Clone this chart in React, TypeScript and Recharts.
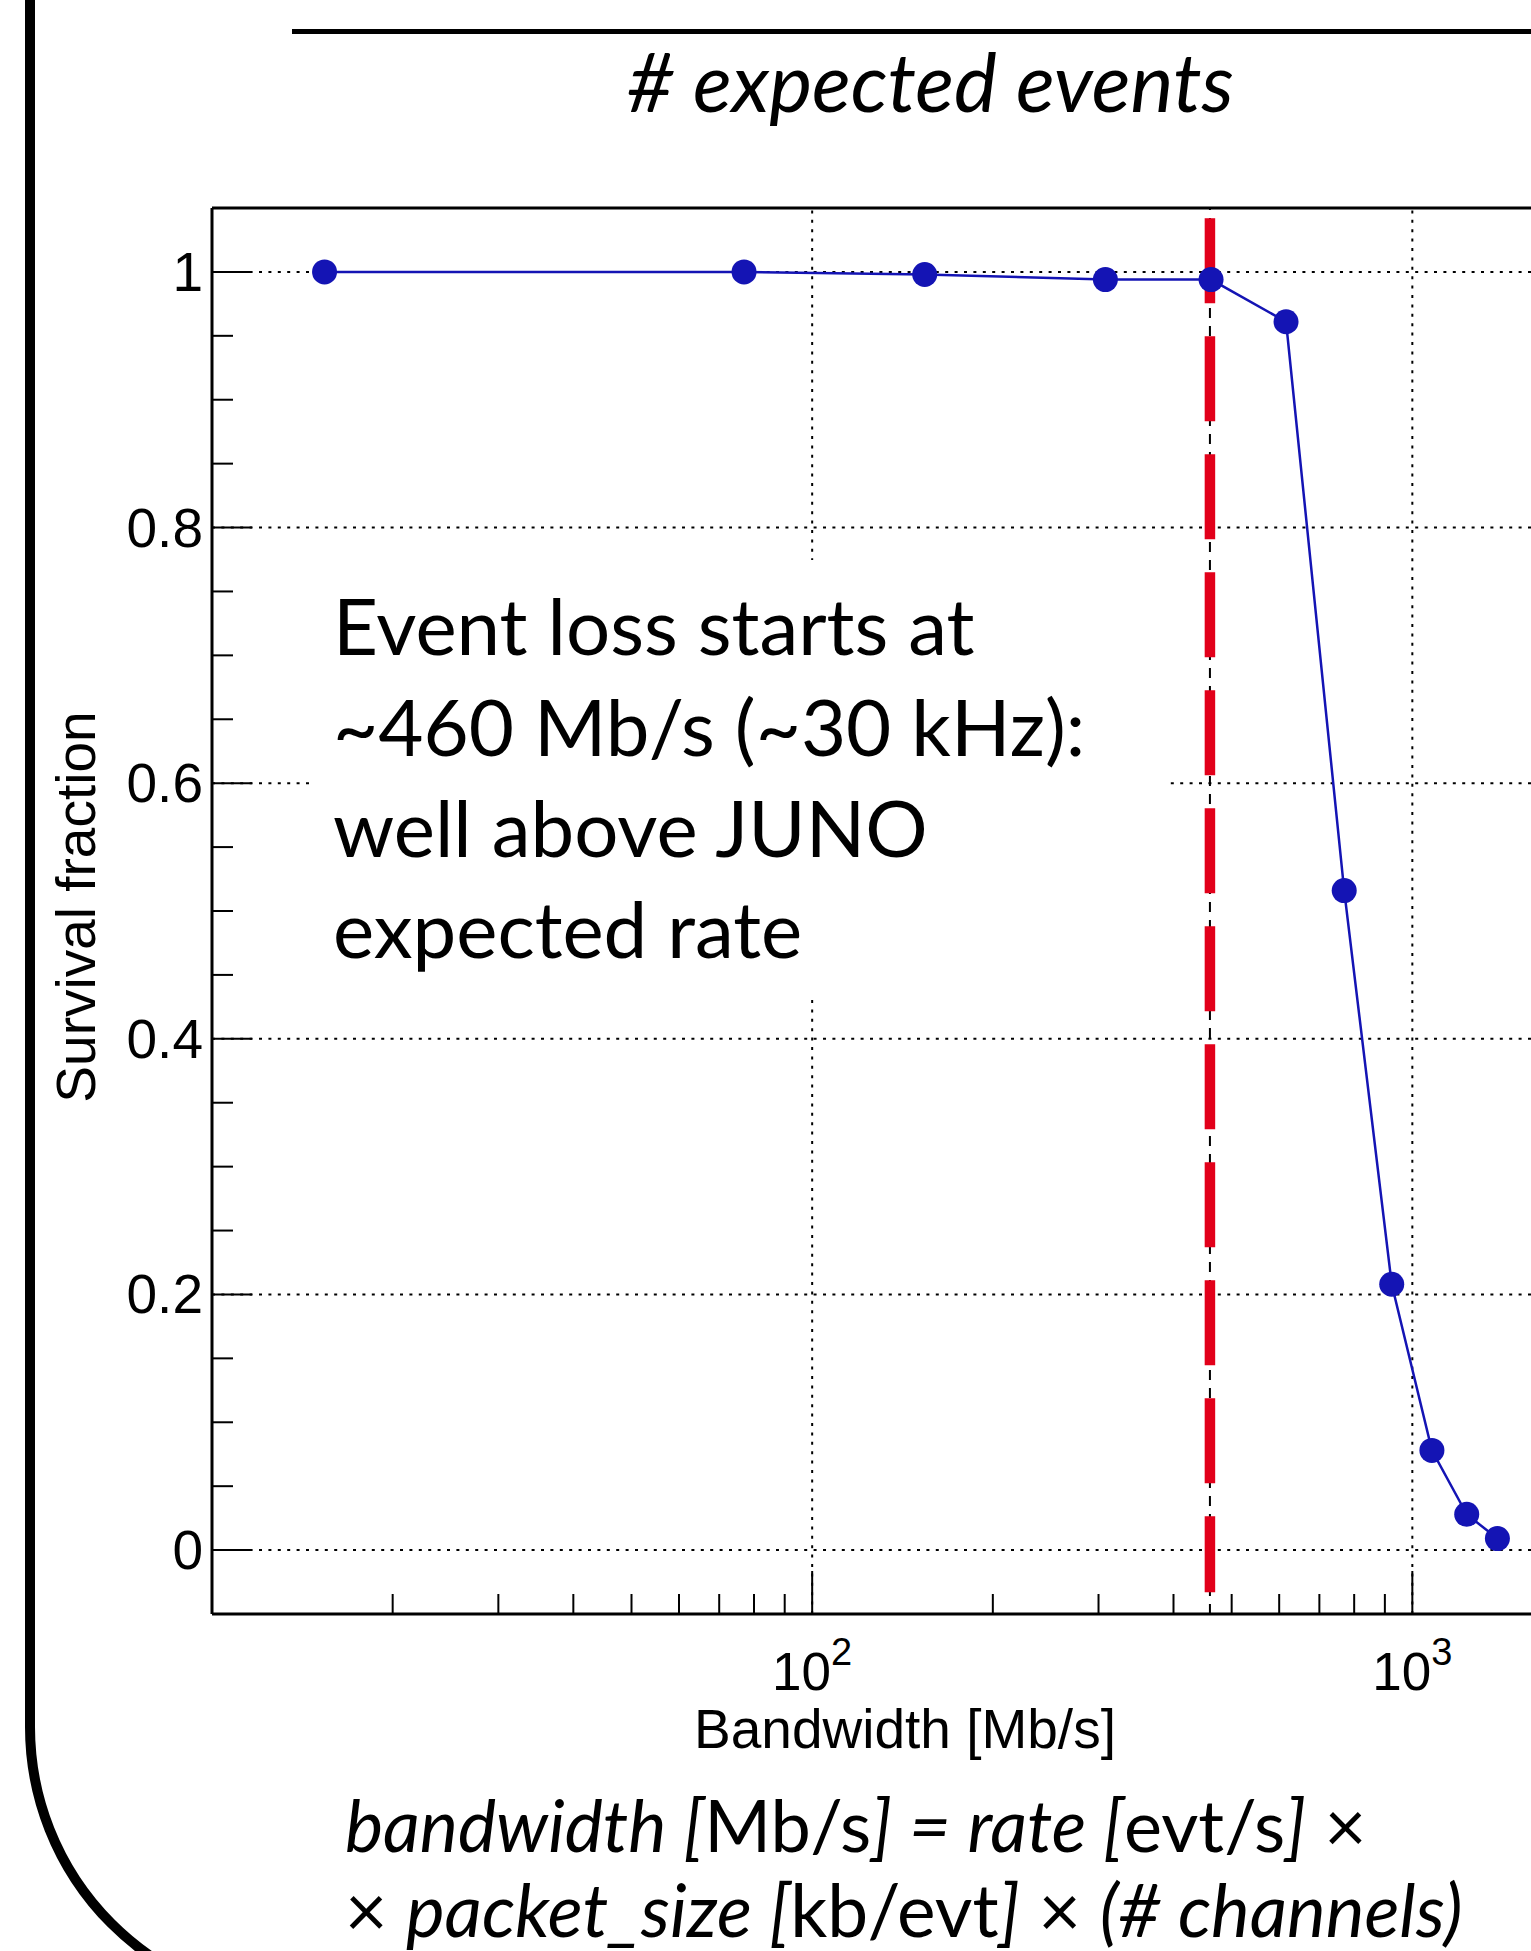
import React from 'react';
import { Label, Line, LineChart, ReferenceLine, XAxis, YAxis } from 'recharts';

// bandwidth [Mb/s] of each test run and fraction of events that survived
const bandwidth = [15.4, 77, 154, 308, 462, 616, 770, 924, 1078, 1232, 1386];
const survival = [1.0, 1.0, 0.998, 0.994, 0.994, 0.961, 0.516, 0.208, 0.078, 0.028, 0.009];

const xTicks = [20, 30, 40, 50, 60, 70, 80, 90, 100, 200, 300, 400, 500, 600, 700, 800, 900, 1000];
const xMajor = [100, 1000];
const xExponents = ['2', '3'];
const yTicks = [
  0, 0.05, 0.1, 0.15, 0.2, 0.25, 0.3, 0.35, 0.4, 0.45, 0.5, 0.55, 0.6, 0.65, 0.7, 0.75, 0.8, 0.85, 0.9,
  0.95, 1,
];
const yMajor = [0, 0.2, 0.4, 0.6, 0.8, 1];
const yLabels = ['0', '0.2', '0.4', '0.6', '0.8', '1'];
const lossOnset = 460;

const noteLines = ['Event loss starts at', '~460 Mb/s (~30 kHz):', 'well above JUNO', 'expected rate'];

const data = bandwidth.map((b, i) => ({ b, s: survival[i] }));

const BLUE = '#1414b4';
const RED = '#e2001a';
const ROOT_FONT = '"Liberation Sans", Arial, sans-serif';
const SLIDE_FONT = 'Lato, "Open Sans", sans-serif';

const XTick = ({ x, y, payload }: any) => {
  const i = xMajor.indexOf(payload.value);
  return (
    <g>
      <line x1={x} x2={x} y1={y} y2={y - (i >= 0 ? 43 : 20)} stroke="#000" strokeWidth={2} />
      {i >= 0 && (
        <text x={x} y={y + 76} textAnchor="middle" fontFamily={ROOT_FONT} fontSize={53} fill="#000">
          10
          <tspan dy={-25} fontSize={38}>
            {xExponents[i]}
          </tspan>
        </text>
      )}
    </g>
  );
};

const YTick = ({ x, y, payload }: any) => {
  const i = yMajor.indexOf(payload.value);
  return (
    <g>
      <line x1={x} x2={x + (i >= 0 ? 40 : 21)} y1={y} y2={y} stroke="#000" strokeWidth={2} />
      {i >= 0 && (
        <text
          x={x - 9}
          y={y}
          textAnchor="end"
          dominantBaseline="central"
          fontFamily={ROOT_FONT}
          fontSize={55}
          fill="#000"
        >
          {yLabels[i]}
        </text>
      )}
    </g>
  );
};

const grid = { stroke: '#000', strokeWidth: 2, strokeDasharray: '3 6.4' };

export default function App() {
  return (
    <div
      style={{
        position: 'absolute',
        left: 0,
        top: 0,
        width: 1531,
        height: 1951,
        overflow: 'hidden',
        background: '#fff',
      }}
    >
      <LineChart width={1593} height={1951} data={data} margin={{ top: 207, right: 0, bottom: 336, left: 211 }}>
        <XAxis
          dataKey="b"
          type="number"
          scale="log"
          domain={[10, 2000]}
          allowDataOverflow
          ticks={xTicks}
          interval={0}
          height={1}
          tickSize={0}
          tickMargin={0}
          tickLine={false}
          tick={<XTick />}
          axisLine={{ stroke: '#000', strokeWidth: 3 }}
        >
          <Label
            content={() => (
              <text x={905} y={1748} textAnchor="middle" fontFamily={ROOT_FONT} fontSize={55} fill="#000">
                Bandwidth [Mb/s]
              </text>
            )}
          />
        </XAxis>
        {/* top edge of the frame, no ticks */}
        <XAxis
          xAxisId="top"
          orientation="top"
          dataKey="b"
          type="number"
          scale="log"
          domain={[10, 2000]}
          allowDataOverflow
          height={1}
          tick={false}
          tickLine={false}
          axisLine={{ stroke: '#000', strokeWidth: 3 }}
        />
        <YAxis
          type="number"
          domain={[-0.05, 1.05]}
          allowDataOverflow
          ticks={yTicks}
          interval={0}
          width={1}
          tickSize={0}
          tickMargin={0}
          tickLine={false}
          tick={<YTick />}
          axisLine={{ stroke: '#000', strokeWidth: 3 }}
        >
          <Label
            content={() => (
              <text
                transform="translate(95 907) rotate(-90)"
                textAnchor="middle"
                fontFamily={ROOT_FONT}
                fontSize={55}
                fill="#000"
              >
                Survival fraction
              </text>
            )}
          />
        </YAxis>
        {yMajor.map((v) => (
          <ReferenceLine key={`gy${v}`} y={v} {...grid} />
        ))}
        {xMajor.map((v) => (
          <ReferenceLine key={`gx${v}`} x={v} {...grid} />
        ))}
        <ReferenceLine x={lossOnset} stroke="#000" strokeWidth={2} strokeDasharray="10 8" />
        <Line
          dataKey="s"
          type="linear"
          stroke={BLUE}
          strokeWidth={2.5}
          dot={{ r: 12.5, fill: BLUE, stroke: 'none' }}
          isAnimationActive={false}
        />
        <ReferenceLine
          segment={[
            { x: lossOnset, y: 1.042 },
            { x: lossOnset, y: -0.033 },
          ]}
          stroke={RED}
          strokeWidth={10.5}
          strokeDasharray="85 33"
          ifOverflow="visible"
        />
      </LineChart>

      {/* slide decorations around the plot */}
      <svg
        width={1531}
        height={1951}
        style={{ position: 'absolute', left: 0, top: 0, pointerEvents: 'none' }}
      >
        <rect x={30} y={-500} width={3000} height={2505} rx={278} fill="none" stroke="#000" strokeWidth={10} />
        <rect x={292} y={29} width={1300} height={5} fill="#000" />
        <text x={627} y={112} fontFamily={SLIDE_FONT} fontStyle="italic" fontSize={81} fill="#000">
          # expected events
        </text>

        <rect x={313} y={560} width={857} height={435} fill="#fff" />
        {noteLines.map((t, i) => (
          <text key={t} x={333} y={655 + i * 101} fontFamily={SLIDE_FONT} fontSize={78} fill="#000">
            {t}
          </text>
        ))}

        <text x={345} y={1852} fontFamily={SLIDE_FONT} fontSize={72} fill="#000">
          <tspan fontStyle="italic">bandwidth [</tspan>
          <tspan>Mb/s</tspan>
          <tspan fontStyle="italic">] = rate [</tspan>
          <tspan>evt/s</tspan>
          <tspan fontStyle="italic">]</tspan>
          <tspan> ×</tspan>
        </text>
        <text x={345} y={1937} fontFamily={SLIDE_FONT} fontSize={73} fill="#000">
          <tspan>× </tspan>
          <tspan fontStyle="italic">packet_size [</tspan>
          <tspan>kb/evt</tspan>
          <tspan fontStyle="italic">]</tspan>
          <tspan> × </tspan>
          <tspan fontStyle="italic">(# channels)</tspan>
        </text>
      </svg>
    </div>
  );
}
